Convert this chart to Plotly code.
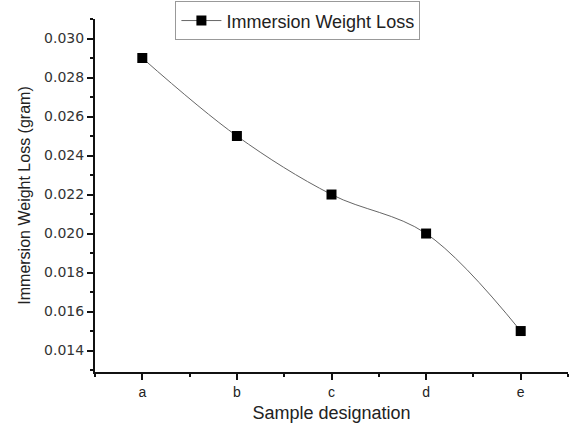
import plotly.graph_objects as go

categories = ["a", "b", "c", "d", "e"]
weight_loss = [0.029, 0.025, 0.022, 0.020, 0.015]
y_ticks = [0.014, 0.016, 0.018, 0.020, 0.022, 0.024, 0.026, 0.028, 0.030]

x_pos = list(range(len(categories)))

fig = go.Figure()
fig.add_trace(go.Scatter(
    x=x_pos, y=weight_loss, mode="lines+markers",
    name="Immersion Weight Loss",
    line=dict(color="#666666", width=1, shape="spline", smoothing=1),
    marker=dict(symbol="square", size=10, color="black"),
))

fig.update_layout(
    width=570, height=424,
    margin=dict(l=95, r=2, t=18, b=52),
    paper_bgcolor="white", plot_bgcolor="white",
    font=dict(family="Liberation Sans, Arial, sans-serif", color="#222222"),
    showlegend=True,
    legend=dict(
        x=0.17, y=1.047, xanchor="left", yanchor="top",
        bordercolor="#999999", borderwidth=1, bgcolor="white",
        font=dict(size=18, color="#222222"),
        itemwidth=40, tracegroupgap=0,
    ),
)

fig.update_xaxes(
    range=[-0.5, 4.5],
    tickvals=x_pos, ticktext=categories,
    ticks="outside", ticklen=6, tickwidth=2, tickcolor="#111111",
    showline=True, linecolor="#111111", linewidth=2,
    showgrid=False, zeroline=False,
    tickfont=dict(size=14, color="#222222"),
    minor=dict(dtick=0.5, tick0=0, ticks="outside", ticklen=3, tickwidth=2, tickcolor="#111111"),
    title=dict(text="Sample designation", font=dict(size=18, color="#222222"), standoff=8),
)
fig.update_yaxes(
    range=[0.0129, 0.031],
    tickvals=y_ticks, ticktext=[f"{v:.3f}" for v in y_ticks],
    ticks="outside", ticklen=6, tickwidth=2, tickcolor="#111111",
    showline=True, linecolor="#111111", linewidth=2,
    showgrid=False, zeroline=False,
    tickfont=dict(family="DejaVu Sans, sans-serif", size=14, color="#333333"),
    minor=dict(dtick=0.001, tick0=0.013, ticks="outside", ticklen=3, tickwidth=2, tickcolor="#111111"),
    title=dict(text="Immersion Weight Loss (gram)", font=dict(size=16, color="#222222"), standoff=10),
)

fig.write_html("out.html", config={"displayModeBar": False},
               post_script="document.body.style.margin='0';")
